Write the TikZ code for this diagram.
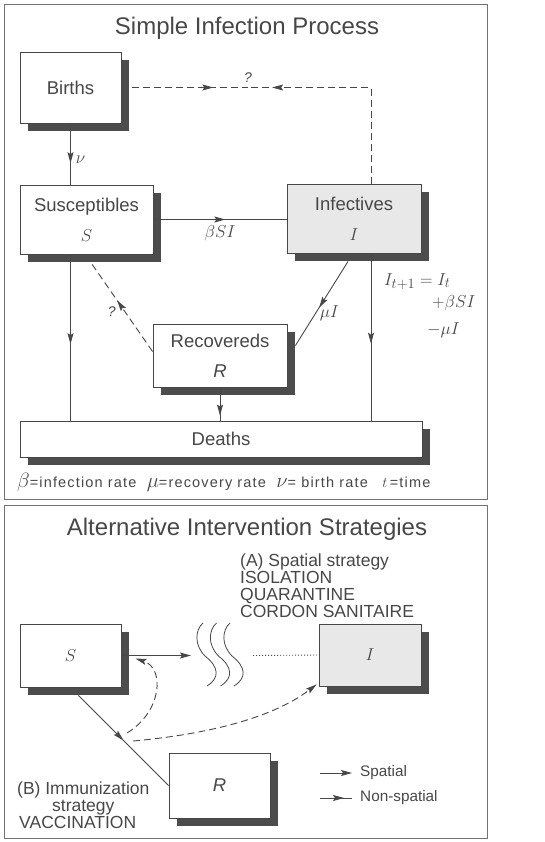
\documentclass[tikz,border=0pt]{standalone}
\usepackage{fontspec}
\setmainfont{Liberation Sans}
\usepackage{tikz}
\usetikzlibrary{arrows.meta,calc,shadows,decorations.markings}
\definecolor{ink}{gray}{0.28}
\definecolor{shade}{gray}{0.30}
\definecolor{stipple}{gray}{0.91}
\newcommand{\ratesym}[1]{{\fontsize{21}{21}\selectfont$#1$}}
\tikzset{
  midarrow/.style={postaction={decorate},decoration={markings,
      mark=at position #1 with {\arrow{Stealth[length=11pt,width=6pt,inset=2pt]}}}}
}

\begin{document}
\begin{tikzpicture}[x=1pt,y=-1pt,
    comp/.style={rectangle,draw=ink,line width=0.9pt,fill=white,align=center,
                 text=ink,font=\fontsize{18.5}{22}\selectfont,
                 drop shadow={shadow xshift=8pt,shadow yshift=-8pt,fill=shade,opacity=1}},
    flow/.style={draw=ink,line width=0.9pt},
    guess/.style={flow,dash pattern=on 7pt off 4pt},
    tip/.style={-{Stealth[length=11pt,width=6pt,inset=2pt]}},
    lbl/.style={text=ink,inner sep=2pt,font=\fontsize{19}{22}\selectfont},
    note/.style={text=ink,inner sep=0pt,font=\fontsize{17.5}{17}\selectfont},
    key/.style={text=ink,inner sep=0pt,font=\fontsize{15.3}{18}\selectfont},
    title/.style={text=ink,font=\fontsize{24}{28}\selectfont},
    frame/.style={draw=black!55,line width=1pt}
]
\useasboundingbox (0,0) rectangle (544,842);
\draw[frame] (4,5) rectangle (487,499);
\draw[frame] (4,505) rectangle (487,838);

\node[title] (title1) at (247,28) {Simple Infection Process};

\node[comp,minimum width=101pt,minimum height=71pt] (births) at (70.5,87.5) {Births};
\node[comp,minimum width=133pt,minimum height=69pt] (susc) at (86.5,219.5) {Susceptibles\\[8pt]$S$};
\node[comp,fill=stipple,minimum width=134pt,minimum height=69pt] (infect) at (354,218.5) {Infectives\\[8pt]$I$};
\node[comp,minimum width=134pt,minimum height=63pt] (recov) at (220,355.5) {Recovereds\\[8pt]\textit{R}};
\node[comp,minimum width=402pt,minimum height=36pt] (deaths) at (221,439) {Deaths};

\coordinate (qmark) at (248,87.5);
\coordinate (bend) at (371,87.5);
\draw[guess,midarrow=0.7] ([xshift=11pt]births.east) -- (qmark);
\draw[guess,midarrow=0.89] (bend |- infect.north) -- (bend) -- (qmark);
\node[lbl,font=\fontsize{14}{16}\selectfont,above=3pt] (q1) at (qmark) {\textit{?}};

\draw[flow,midarrow=0.65] (births.south) -- (births.south |- susc.north)
    node[lbl,right=3pt,pos=0.6] {$\nu$};
\draw[flow,midarrow=0.54] (susc.east) -- (susc.east -| infect.west)
    node[lbl,below=4pt,pos=0.5] {$\beta SI$};
\draw[guess,midarrow=0.58] ([yshift=4pt]recov.west) -- ([xshift=5pt,yshift=-9pt]susc.south)
    node[lbl,font=\fontsize{14}{16}\selectfont,left=7pt,pos=0.45] {\textit{?}};
\draw[flow,midarrow=0.55] ([xshift=-6pt,yshift=-8pt]infect.south) -- ([xshift=8pt,yshift=10pt]recov.east)
    node[lbl,right=2pt,pos=0.62] {$\mu I$};
\draw[flow,midarrow=0.54] (births.south |- susc.south) -- (births.south |- deaths.north);
\draw[flow,midarrow=0.54] (bend |- infect.south) -- (bend |- deaths.north);
\draw[flow,midarrow=0.85] (recov.south) -- (recov.south |- deaths.north);

\node[lbl,anchor=base west] (eqa) at (382,285) {$I_{t+1}=I_t$};
\node[lbl,anchor=base west] (eqb) at (430,307) {$+\beta SI$};
\node[lbl,anchor=base west] (eqc) at (425,334) {$-\mu I$};

\node[key,anchor=base west,font=\fontsize{14.5}{18}\selectfont\addfontfeature{LetterSpace=8}] (rates) at (17,487.5)
    {\ratesym{\beta}=infection rate\ \ \ratesym{\mu}=recovery rate\ \ \ratesym{\nu}= birth rate\quad $t$\,=time};

\node[title] (title2) at (247,529) {Alternative Intervention Strategies};

\node[note,anchor=west,align=left] (stratA) at (240,586)
    {(A) Spatial strategy\\ISOLATION\\QUARANTINE\\CORDON SANITAIRE};

\node[comp,minimum width=101pt,minimum height=63pt] (s2) at (70.5,655.5) {$S$};
\node[comp,fill=stipple,minimum width=102pt,minimum height=62pt] (i2) at (370,655) {$I$};
\node[comp,minimum width=101pt,minimum height=65pt] (r2) at (219.5,785.5) {\textit{R}};

\coordinate (wavein) at (191,655.5);
\coordinate (waveout) at (253,655.5);
\draw[flow,tip] (s2.east) -- (wavein);
\foreach \dx in {0,13.5,27}
  \draw[flow,line width=0.8pt] (203+\dx,623) .. controls (195+\dx,630) and (194+\dx,645) .. (205+\dx,656)
      .. controls (219+\dx,667) and (220+\dx,678) .. (207+\dx,686);
\draw[flow,dash pattern=on 1.2pt off 1.8pt] (waveout) -- (i2.west);

\coordinate (vacA) at (127,733);
\coordinate (vacB) at (133,741);
\draw[flow,midarrow=0.5] ([xshift=8pt,yshift=-8pt]s2.south) -- (r2.west);
\draw[guess,tip] (vacA) .. controls (162,712) and (165,668) .. ([xshift=14pt,yshift=-3pt]s2.east);
\draw[guess,tip] (vacB) .. controls (200,735) and (270,720) .. ([xshift=-2pt,yshift=2pt]i2.south west);

\node[note,anchor=base west] (stratB) at (17,794) {(B) Immunization};
\node[note,anchor=base west] (stratB2) at (52,811) {strategy};
\node[note,anchor=base west] (stratB3) at (19,828) {VACCINATION};

\coordinate (keyA) at (320,773);
\coordinate (keyB) at (320,798);
\node[key,anchor=west] (spatial) at (360,773) {Spatial};
\node[key,anchor=west] (nonspatial) at (360,798) {Non-spatial};
\draw[flow,tip] (keyA) -- ([xshift=-8pt]spatial.west);
\draw[flow,midarrow=0.75] (keyB) -- ([xshift=-8pt]nonspatial.west);
\end{tikzpicture}
\end{document}
